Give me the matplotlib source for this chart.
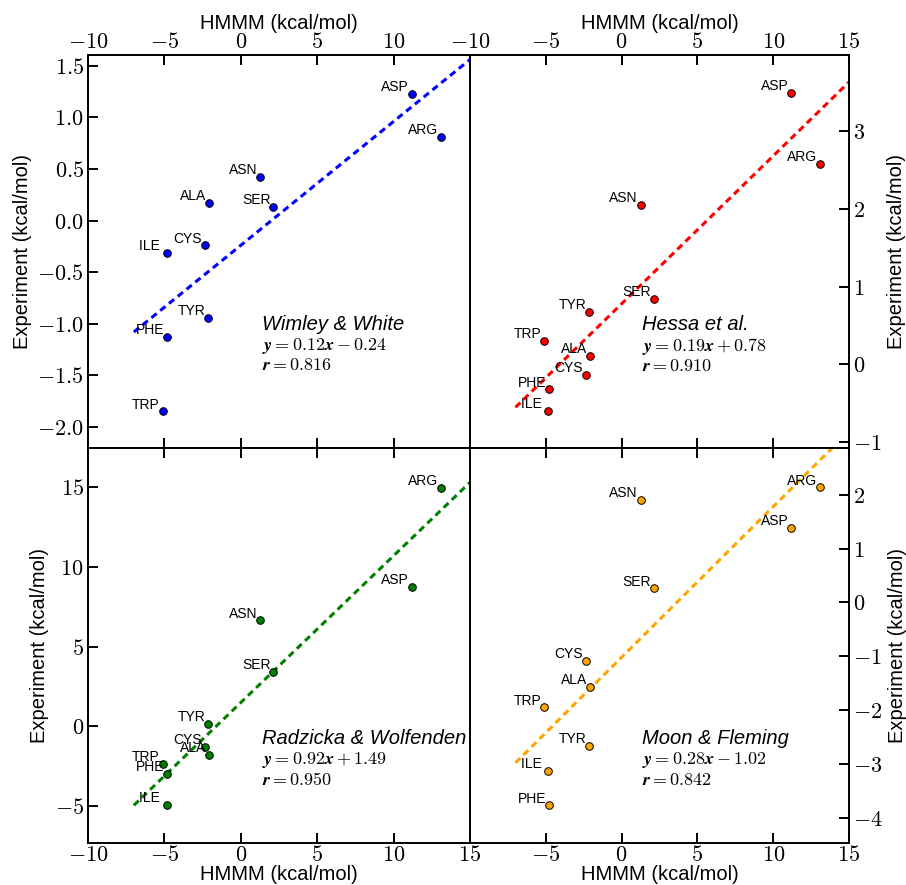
import numpy as np
import matplotlib.pyplot as plt
from matplotlib.ticker import FuncFormatter

plt.rcParams['font.family'] = ['Liberation Sans', 'DejaVu Sans']
plt.rcParams['mathtext.fontset'] = 'cm'

# amino acids and HMMM insertion energies (kcal/mol)
names = ['ALA', 'ARG', 'ASN', 'ASP', 'CYS', 'ILE ', 'PHE', 'SER', 'TRP', 'TYR']
hmmm = [-2.1, 13.1, 1.25, 11.2, -2.35, -4.85, -4.8, 2.12, -5.12, -2.15]

# experimental scales
wimley = [0.17, 0.81, 0.42, 1.23, -0.24, -0.31, -1.13, 0.13, -1.85, -0.94]
hessa = [0.11, 2.58, 2.05, 3.49, -0.13, -0.60, -0.32, 0.84, 0.30, 0.68]
radzicka = [-1.81, 14.92, 6.64, 8.72, -1.28, -4.92, -2.98, 3.40, -2.33, 0.14]
moon = [-1.57, 2.14, 1.90, 1.38, -1.08, -3.13, -3.77, 0.26, -1.95, -2.66]

titles = ['Wimley & White', 'Hessa et al.', 'Radzicka & Wolfenden', 'Moon & Fleming']
slopes = [0.12, 0.19, 0.92, 0.28]
intercepts = [-0.24, 0.78, 1.49, -1.02]
rvals = ['0.816', '0.910', '0.950', '0.842']
colors = ['#0000ff', '#ff0000', '#008000', '#ffa500']

fig = plt.figure(figsize=(9.06, 8.85), dpi=100)

x0, xm, x1 = 88/906, 470/906, 849/906
y0, ym, y1 = 1-843/885, 1-448/885, 1-55/885

panels = [
    dict(pos=[x0, ym, xm-x0, y1-ym], y=wimley, ylim=(-2.204, 1.604),
         yt=np.arange(-2.0, 1.51, 0.5), yf='{:.1f}', row=0, col=0, hide=[15], ty=0.315),
    dict(pos=[xm, ym, x1-xm, y1-ym], y=hessa, ylim=(-1.073, 3.977),
         yt=[-1, 0, 1, 2, 3], yf='{:.0f}', row=0, col=1, hide=[], ty=0.313),
    dict(pos=[x0, y0, xm-x0, ym-y0], y=radzicka, ylim=(-7.31, 17.44),
         yt=[-5, 0, 5, 10, 15], yf='{:.0f}', row=1, col=0, hide=[], ty=0.265),
    dict(pos=[xm, y0, x1-xm, ym-y0], y=moon, ylim=(-4.47, 2.87),
         yt=[-4, -3, -2, -1, 0, 1, 2], yf='{:.0f}', row=1, col=1, hide=[-10], ty=0.265),
]

xfit = np.array([-7, 15])
for i, p in enumerate(panels):
    ax = fig.add_axes(p['pos'])
    ax.plot(xfit, slopes[i]*xfit + intercepts[i], color=colors[i], lw=2.2,
            linestyle=(0, (2.2, 1.5)), zorder=2)
    ax.scatter(hmmm, p['y'], s=30, color=colors[i], edgecolor='black',
               linewidth=0.7, zorder=3)
    for n, xv, yv in zip(names, hmmm, p['y']):
        ax.annotate(n, (xv, yv), xytext=(-2, 2), textcoords='offset points',
                    ha='right', va='baseline', fontsize=10)
    ax.set_xlim(-10, 15)
    ax.set_ylim(*p['ylim'])
    ax.set_xticks([-10, -5, 0, 5, 10, 15])
    ax.set_yticks(p['yt'])
    hide = p['hide']
    ax.xaxis.set_major_formatter(FuncFormatter(
        lambda v, pos, hide=hide: '' if round(v) in hide else r'$%d$' % round(v)))
    yf = p['yf']
    ax.yaxis.set_major_formatter(FuncFormatter(
        lambda v, pos, yf=yf: r'$%s$' % yf.format(v)))
    top = p['row'] == 0
    left = p['col'] == 0
    ax.tick_params(direction='in', length=7, width=1.4, labelsize=16, pad=3,
                   top=True, bottom=True, left=left, right=not left,
                   labeltop=top, labelbottom=not top,
                   labelleft=left, labelright=not left)
    ax.tick_params(axis='x', pad=1.5)
    for s in ax.spines.values():
        s.set_linewidth(1.4)
    ax.set_xlabel('HMMM (kcal/mol)', fontsize=14.5, labelpad=2 if top else -0.8)
    ax.set_ylabel('Experiment (kcal/mol)', fontsize=14.5)
    if top:
        ax.xaxis.set_label_position('top')
    if not left:
        ax.yaxis.set_label_position('right')
    ax.text(0.455, p['ty'], titles[i], transform=ax.transAxes, fontsize=14.5,
            style='italic', va='center')
    sign = '-' if intercepts[i] < 0 else '+'
    eq = r'$\boldsymbol{y = %.2fx %s %.2f}$' % (slopes[i], sign, abs(intercepts[i]))
    ax.text(0.455, p['ty'] - 0.056, eq, transform=ax.transAxes, fontsize=13, va='center')
    ax.text(0.455, p['ty'] - 0.106, r'$\boldsymbol{r = %s}$' % rvals[i],
            transform=ax.transAxes, fontsize=13, va='center')

fig.savefig('out.png', dpi=100)
